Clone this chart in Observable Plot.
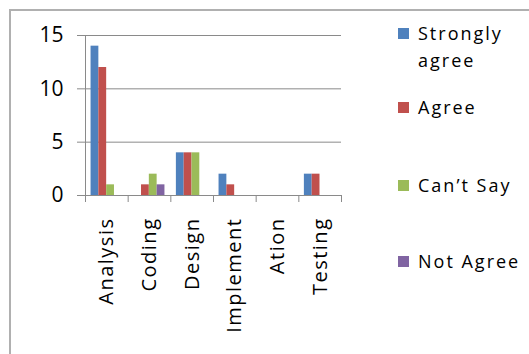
<!DOCTYPE html>
<html>
<head>
<meta charset="utf-8">
<script src="https://cdn.jsdelivr.net/npm/d3@7"></script>
<script src="https://cdn.jsdelivr.net/npm/@observablehq/plot@0.6"></script>
<style>
  html, body { margin: 0; padding: 0; background: #fff; }
  #wrap { position: relative; width: 529px; height: 354px; overflow: hidden; font-family: "Open Sans", sans-serif; }
  #frame { position: absolute; left: 9px; top: 9px; width: 600px; height: 400px; border-left: 2px solid #b0b0b0; border-top: 2px solid #b0b0b0; }
  #chart { position: absolute; left: 0; top: 0; }
  .leg { position: absolute; left: 398px; font-size: 18px; letter-spacing: 2px; color: #000; line-height: 27px; }
  .leg .sw { position: absolute; left: 0; width: 11px; height: 11px; }
  .leg .lab { position: absolute; left: 20px; white-space: nowrap; }
</style>
</head>
<body>
<div id="wrap">
  <div id="frame"></div>
  <div id="chart"></div>
  <div id="legend"></div>
</div>
<script>
const categories = ["Analysis", "Coding", "Design", "Implement", "Ation", "Testing"];
const seriesNames = ["Strongly agree", "Agree", "Can\u2019t Say", "Not Agree"];
const seriesColors = ["#4F81BD", "#C0504D", "#9BBB59", "#8064A2"];
const stronglyAgree = [14, 0, 4, 2, 0, 2];
const agree = [12, 1, 4, 1, 0, 2];
const cantSay = [1, 2, 4, 0, 0, 0];
const notAgree = [0, 1, 0, 0, 0, 0];
const yTicks = [0, 5, 10, 15];

const seriesValues = [stronglyAgree, agree, cantSay, notAgree];
const rows = [];
categories.forEach((c, ci) => {
  seriesValues.forEach((vals, si) => {
    rows.push({cat: c, ci, series: seriesNames[si], si, value: vals[ci]});
  });
});

const barW = 0.183;   // bar width as fraction of a category slot
const groupOff = 0.13; // offset of the first bar inside a slot
const grid = "#8a8a8a";

const plot = Plot.plot({
  width: 529,
  height: 354,
  marginLeft: 85,
  marginRight: 188,
  marginTop: 35,
  marginBottom: 159,
  style: {fontFamily: "Open Sans, sans-serif", color: "#000", background: "transparent"},
  x: {type: "linear", domain: [0, categories.length]},
  y: {domain: [0, 15]},
  color: {domain: seriesNames, range: seriesColors},
  marks: [
    Plot.ruleY(yTicks, {stroke: grid, strokeWidth: 1}),
    Plot.axisY({ticks: yTicks, tickSize: 8, tickPadding: 14, fontSize: 21, stroke: grid, label: null}),
    Plot.ruleX([0], {stroke: grid, strokeWidth: 1}),
    Plot.axisX({ticks: d3.range(categories.length + 1), tickSize: 7, tickFormat: () => "", stroke: grid, label: null}),
    Plot.axisX({
      ticks: categories.map((c, i) => i + 0.5),
      tickSize: 0,
      tickPadding: 22,
      tickRotate: -90,
      fontSize: 20,
      tickFormat: v => categories[Math.floor(v)],
      label: null
    }),
    Plot.rectY(rows, {
      x1: d => d.ci + groupOff + d.si * barW,
      x2: d => d.ci + groupOff + (d.si + 1) * barW,
      y: "value",
      fill: "series"
    })
  ]
});
d3.select(plot).selectAll('g[aria-label="x-axis tick label"] text').style("letter-spacing", "1.5px");
document.getElementById("chart").appendChild(plot);

const legendTops = [20, 94, 172, 248];
const legend = document.getElementById("legend");
const legendLines = [["Strongly", "agree"], ["Agree"], ["Can\u2019t Say"], ["Not Agree"]];
seriesNames.forEach((s, i) => {
  const item = document.createElement("div");
  item.className = "leg";
  item.style.top = legendTops[i] + "px";
  const sw = document.createElement("div");
  sw.className = "sw";
  sw.style.background = seriesColors[i];
  sw.style.top = "8px";
  const lab = document.createElement("div");
  lab.className = "lab";
  lab.innerHTML = legendLines[i].join("<br>");
  item.appendChild(sw);
  item.appendChild(lab);
  legend.appendChild(item);
});
</script>
</body>
</html>
